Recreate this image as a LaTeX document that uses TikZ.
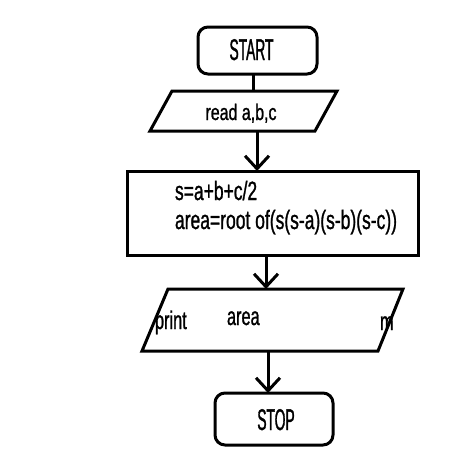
\documentclass[tikz,border=0pt]{standalone}
\usepackage{fontspec}
\usetikzlibrary{arrows.meta}
\newfontfamily\fTerm[FakeStretch=0.46,FakeBold=1]{Liberation Sans}
\newfontfamily\fRead[FakeStretch=0.71,FakeBold=1]{Liberation Sans}
\newfontfamily\fProc[FakeStretch=0.66,FakeBold=1]{Liberation Sans}
\newfontfamily\fOut[FakeStretch=0.64,FakeBold=1]{Liberation Sans}
\tikzset{
  shp/.style={draw=black,line width=3pt,inner sep=0pt,outer sep=0pt},
  term/.style={shp,rectangle,rounded corners=10pt},
  box/.style={rectangle,inner sep=0pt,outer sep=0pt},
  iopath/.style={draw=black,line width=3pt,line join=miter},
  txt/.style={inner sep=0pt,outer sep=0pt,anchor=base},
  txtl/.style={inner sep=0pt,outer sep=0pt,anchor=base west},
  conn/.style={line width=3pt},
  arr/.style={line width=3pt,-{Straight Barb[length=13pt,width=24pt]}}
}
\begin{document}
\begin{tikzpicture}[x=1pt,y=-1pt]
\useasboundingbox[fill=white] (0,0) rectangle (458,463);
\node[term,minimum width=119pt,minimum height=47pt] (start) at (257.5,50.5) {};
\node[box,minimum width=187pt,minimum height=40pt] (read) at (243.5,111) {};
\draw[iopath] (150,131) -- (172,91) -- (337,91) -- (315,131) -- cycle;
\node[shp,rectangle,minimum width=291pt,minimum height=84pt] (proc) at (272.5,213) {};
\node[box,minimum width=261pt,minimum height=62pt] (print) at (272.5,320) {};
\draw[iopath] (142,351) -- (168,289) -- (403,289) -- (378,351) -- cycle;
\node[term,minimum width=118pt,minimum height=52pt] (stop) at (274,419) {};

\node[txt] (tstart) at (251.5,60) {\fTerm\fontsize{30}{30}\selectfont START};
\node[txt] (tread) at (241,120) {\fRead\fontsize{22.5}{22.5}\selectfont read a,b,c};
\node[txtl] (ts) at (175,200) {\fProc\fontsize{26.5}{26.5}\selectfont s=a+b+c/2};
\node[txtl] (tarea) at (175,229) {\fProc\fontsize{26.5}{26.5}\selectfont area=root of(s(s-a)(s-b)(s-c))};
\node[txtl] (tprint) at (155,329) {\fOut\fontsize{25.5}{25.5}\selectfont print};
\node[txtl] (tpa) at (227,325) {\fOut\fontsize{25.5}{25.5}\selectfont area};
\node[txtl] (tm) at (380,330) {\fOut\fontsize{25.5}{25.5}\selectfont m};
\node[txt] (tstop) at (276,430) {\fTerm\fontsize{30}{30}\selectfont STOP};

\draw[conn] ([xshift=-4.5pt]start.south) -- ([xshift=-4.5pt]start.south |- read.north);
\draw[arr] ([xshift=13.5pt]read.south) -- ([xshift=13.5pt]read.south |- proc.north);
\draw[arr] ([xshift=-6.5pt]proc.south) -- ([xshift=-6.5pt]proc.south |- print.north);
\draw[arr] ([xshift=-4.5pt]print.south) -- ([xshift=-4.5pt]print.south |- stop.north);
\end{tikzpicture}
\end{document}
